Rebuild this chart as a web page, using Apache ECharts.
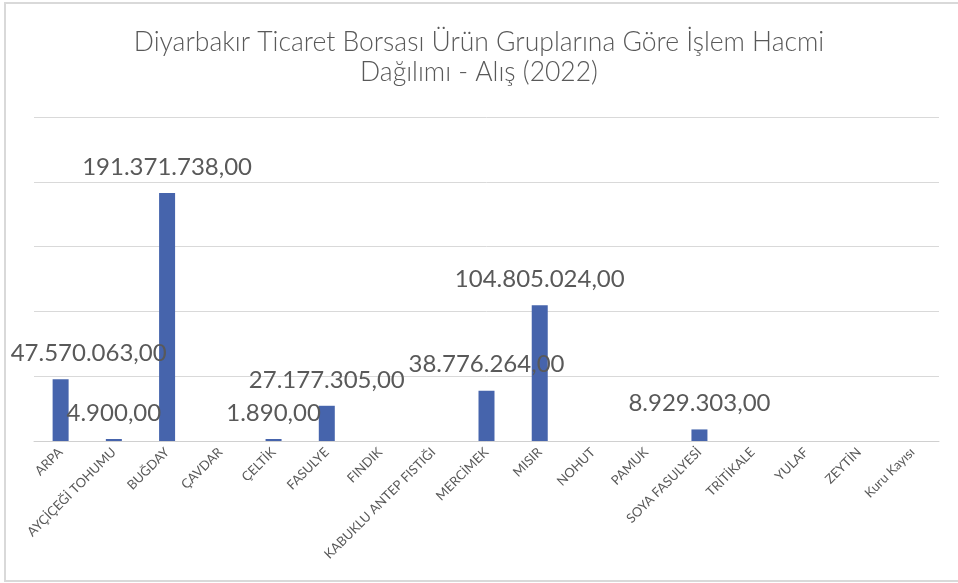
<!DOCTYPE html>
<html>
<head>
<meta charset="utf-8">
<script src="https://cdn.jsdelivr.net/npm/echarts@6/dist/echarts.min.js"></script>
<style>
  html, body { margin: 0; padding: 0; background: #ffffff; }
  #chart { width: 958px; height: 583px; }
</style>
</head>
<body>
<div id="chart"></div>
<script>
// Product groups and purchase volume (TL), 2022
const categories = [
  'ARPA', 'AYÇİÇEĞİ TOHUMU', 'BUĞDAY', 'ÇAVDAR', 'ÇELTİK', 'FASULYE', 'FINDIK',
  'KABUKLU ANTEP FISTIĞI', 'MERCİMEK', 'MISIR', 'NOHUT', 'PAMUK', 'SOYA FASULYESİ',
  'TRİTİKALE', 'YULAF', 'ZEYTİN', 'Kuru Kayısı'
];
const volumes = [
  47570063, 4900, 191371738, null, 1890, 27177305, null,
  null, 38776264, 104805024, null, null, 8929303,
  null, null, null, null
];
const titleLines = ['Diyarbakır Ticaret Borsası Ürün Gruplarına Göre İşlem Hacmi', 'Dağılımı - Alış (2022)'];

// Turkish number format: thousands with '.', decimals with ','
function formatTR(v) {
  const parts = Number(v).toFixed(2).split('.');
  const intPart = parts[0].replace(/\B(?=(\d{3})+(?!\d))/g, '.');
  return intPart + ',' + parts[1];
}

const labelFont = 'Lato';
const barData = volumes.map((v, i) => {
  const item = { value: v };
  // first label is pushed right so it stays inside the frame
  if (i === 0) item.label = { offset: [28, 0] };
  return item;
});

const chart = echarts.init(document.getElementById('chart'), null, { renderer: 'canvas' });
chart.setOption({
  backgroundColor: '#ffffff',
  animation: false,
  title: {
    text: titleLines.join('\n'),
    left: 'center',
    top: 22,
    textStyle: {
      fontFamily: labelFont,
      fontSize: 26.5,
      fontWeight: 300,
      color: '#595959',
      lineHeight: 30
    }
  },
  graphic: [{
    type: 'rect',
    shape: { x: 5, y: 3, width: 970, height: 578 },
    style: { fill: 'none', stroke: '#d9d9d9', lineWidth: 2 },
    silent: true,
    z: 100
  }],
  grid: { left: 34, right: 19, top: 117, bottom: 142 },
  xAxis: {
    type: 'category',
    data: categories,
    axisTick: { show: false },
    axisLine: { show: true, lineStyle: { color: '#d0d0d0', width: 1 } },
    axisLabel: {
      interval: 0,
      rotate: 45,
      margin: 9,
      fontFamily: labelFont,
      fontSize: 13,
      color: '#595959'
    }
  },
  yAxis: {
    type: 'value',
    min: 0,
    max: 250000000,
    interval: 50000000,
    axisLabel: { show: false },
    axisLine: { show: false },
    axisTick: { show: false },
    splitLine: { lineStyle: { color: '#d9d9d9', width: 1 } }
  },
  series: [{
    type: 'bar',
    data: barData,
    barWidth: 16,
    barMinHeight: 2,
    itemStyle: { color: '#4664ac' },
    label: {
      show: true,
      position: 'top',
      distance: 14,
      fontFamily: labelFont,
      fontSize: 24,
      lineHeight: 24,
      color: '#595959',
      formatter: p => (p.value == null ? '' : formatTR(p.value))
    }
  }]
});
</script>
</body>
</html>
